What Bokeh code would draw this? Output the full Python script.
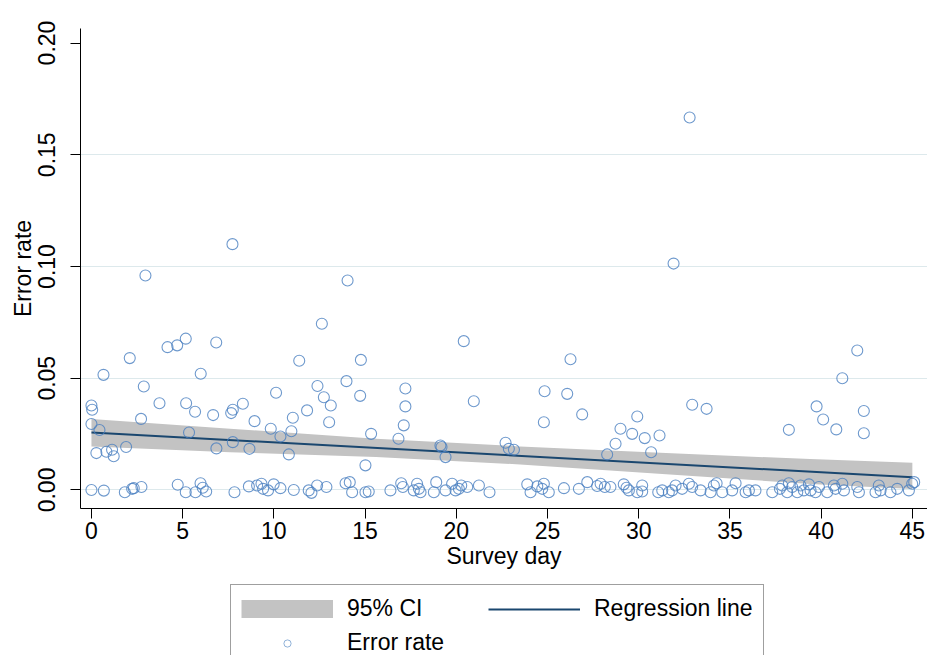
import numpy as np
from bokeh.plotting import figure
from bokeh.layouts import column
from bokeh.models import (Range1d, FixedTicker, Legend, LegendItem,
                          NumeralTickFormatter)
from bokeh.embed import file_html
from bokeh.resources import INLINE

# ---- data ----
day = [0.00, 0.04, 0.00, 0.44, 0.27, 0.82, 1.13, 1.22, 1.90, 0.66,
       2.10, 2.72, 2.87, 2.96, 3.73, 4.17, 4.70, 5.17, 5.19, 5.35,
       5.68, 5.99, 6.67, 6.84, 6.85, 7.66, 7.75, 7.75, 7.73, 8.30,
       8.66, 8.94, 9.83, 10.12, 10.36, 10.82, 10.96, 11.04, 11.39, 11.82,
       12.39, 12.63, 12.74, 13.03, 13.12, 13.98, 14.04, 14.73, 14.77, 15.02,
       15.33, 16.83, 17.12, 17.21, 17.21, 19.13, 19.19, 19.41, 20.41, 20.96,
       22.70, 22.88, 23.16, 24.80, 24.84, 26.08, 26.26, 26.90, 28.27, 28.73,
       29.00, 29.64, 29.92, 30.33, 30.68, 31.14, 31.91, 32.79, 32.93, 33.72,
       38.23, 39.75, 40.11, 40.83, 41.16, 41.98, 42.34, 42.34,
       # near-zero observations
       0.00, 0.68, 1.83, 2.23, 2.32, 2.74, 4.73, 5.17, 5.70, 5.98,
       6.10, 6.29, 7.84, 8.63, 9.08, 9.32, 9.41, 9.68, 9.99, 10.36,
       11.09, 11.91, 12.06, 12.37, 12.88, 13.93, 14.16, 14.29, 15.02, 15.20,
       16.39, 16.98, 17.07, 17.67, 17.85, 17.95, 18.04, 18.77, 18.90, 19.41,
       19.77, 19.96, 20.14, 20.27, 20.60, 21.24, 21.82, 23.89, 24.07, 24.44,
       24.71, 24.80, 25.07, 25.90, 26.72, 27.18, 27.72, 27.91, 28.14, 28.45,
       29.18, 29.33, 29.46, 29.92, 30.19, 30.19, 31.07, 31.29, 31.65, 31.83,
       32.02, 32.38, 32.75, 32.93, 33.39, 33.94, 34.12, 34.27, 34.58, 35.12,
       35.31, 35.86, 36.04, 36.40, 37.32, 37.74, 37.87, 38.14, 38.23, 38.41,
       38.69, 38.87, 39.05, 39.33, 39.42, 39.69, 39.88, 40.33, 40.70, 40.79,
       41.16, 41.25, 41.98, 42.07, 42.98, 43.16, 43.26, 43.80, 44.17, 44.81,
       44.99, 45.10]

error_rate = [0.0378, 0.0359, 0.0295, 0.0268, 0.0165, 0.0171, 0.0180, 0.0151, 0.0192, 0.0515,
              0.0590, 0.0318, 0.0463, 0.0960, 0.0388, 0.0639, 0.0647, 0.0677, 0.0388, 0.0257,
              0.0350, 0.0520, 0.0335, 0.0660, 0.0186, 0.0344, 0.0359, 0.0214, 0.1100, 0.0386,
              0.0184, 0.0308, 0.0274, 0.0435, 0.0239, 0.0159, 0.0263, 0.0323, 0.0578, 0.0356,
              0.0465, 0.0744, 0.0415, 0.0303, 0.0378, 0.0487, 0.0937, 0.0421, 0.0582, 0.0110,
              0.0251, 0.0229, 0.0289, 0.0374, 0.0454, 0.0199, 0.0192, 0.0147, 0.0666, 0.0397,
              0.0211, 0.0184, 0.0180, 0.0303, 0.0442, 0.0430, 0.0585, 0.0338, 0.0159, 0.0207,
              0.0274, 0.0251, 0.0329, 0.0232, 0.0169, 0.0244, 0.1013, 0.1667, 0.0381, 0.0363,
              0.0269, 0.0374, 0.0315, 0.0271, 0.0500, 0.0624, 0.0353, 0.0254,
              0.0000, -0.0003, -0.0010, 0.0005, 0.0008, 0.0013, 0.0023, -0.0010, -0.0010, 0.0030,
              0.0010, -0.0007, -0.0010, 0.0016, 0.0020, 0.0028, 0.0005, -0.0002, 0.0025, 0.0008,
              0.0000, -0.0002, -0.0013, 0.0020, 0.0013, 0.0030, 0.0035, -0.0010, -0.0010, -0.0007,
              -0.0002, 0.0030, 0.0013, -0.0002, 0.0028, 0.0005, -0.0010, -0.0010, 0.0035, -0.0002,
              0.0028, -0.0002, 0.0005, 0.0020, 0.0013, 0.0020, -0.0010, 0.0025, -0.0010, 0.0016,
              0.0005, 0.0028, -0.0010, 0.0008, 0.0005, 0.0035, 0.0018, 0.0028, 0.0013, 0.0013,
              0.0025, 0.0010, -0.0002, -0.0010, 0.0020, -0.0007, -0.0010, -0.0002, -0.0010, -0.0002,
              0.0020, 0.0005, 0.0028, 0.0013, -0.0002, -0.0010, 0.0020, 0.0030, -0.0010, -0.0002,
              0.0030, -0.0010, -0.0002, -0.0002, -0.0010, 0.0005, 0.0020, -0.0010, 0.0030, 0.0013,
              -0.0010, 0.0020, -0.0002, 0.0025, -0.0002, -0.0010, 0.0013, -0.0010, 0.0020, 0.0005,
              0.0028, -0.0002, 0.0013, -0.0010, -0.0010, 0.0020, -0.0002, -0.0010, 0.0005, -0.0002,
              0.0028, 0.0035]

reg_day = [0, 45]
reg_rate = [0.0257, 0.0057]

ci_day = [0, 7.6, 15.6, 23.5, 31.5, 39.4, 45]
ci_upper = [0.0318, 0.0274, 0.0229, 0.0195, 0.0165, 0.0138, 0.0122]
ci_lower = [0.0195, 0.0169, 0.0147, 0.0114, 0.0070, 0.0027, 0.0004]

x_ticks = [0, 5, 10, 15, 20, 25, 30, 35, 40, 45]
y_ticks = [0.0, 0.05, 0.10, 0.15, 0.20]
grid_ticks = [0.0, 0.05, 0.10, 0.15]

legend_labels = ["95% CI", "Regression line", "Error rate"]

FONT = "Liberation Sans"
CI_COLOR = "#c3c3c3"
LINE_COLOR = "#1a476f"
MARK_COLOR = "#4a80c0"

# ---------------- main plot ----------------
p = figure(width=927, height=580, output_backend="svg", toolbar_location=None,
           x_range=Range1d(-0.6, 45.83), y_range=Range1d(-0.0083, 0.2065),
           min_border_left=80, min_border_right=0, min_border_top=28,
           min_border_bottom=72)
p.outline_line_color = None
p.background_fill_color = "white"
p.border_fill_color = "white"

band = p.varea(x=ci_day, y1=ci_lower, y2=ci_upper, fill_color=CI_COLOR, fill_alpha=1.0)
line = p.line(x=reg_day, y=reg_rate, line_color=LINE_COLOR, line_width=2)
pts = p.scatter(x=day, y=error_rate, marker="circle", size=11, fill_color=None,
                line_color=MARK_COLOR, line_alpha=0.8, line_width=1.1)

p.xaxis.ticker = FixedTicker(ticks=x_ticks)
p.yaxis.ticker = FixedTicker(ticks=y_ticks)
p.yaxis.formatter = NumeralTickFormatter(format="0.00")
p.yaxis.major_label_orientation = "vertical"
for ax in (p.xaxis[0], p.yaxis[0]):
    ax.axis_line_color = "black"
    ax.axis_line_width = 1
    ax.major_tick_line_color = "black"
    ax.major_tick_in = 0
    ax.major_tick_out = 10
    ax.minor_tick_line_color = None
    ax.major_label_text_font = FONT
    ax.major_label_text_font_size = "23px"
    ax.major_label_text_color = "black"
    ax.axis_label_text_font = FONT
    ax.axis_label_text_font_size = "23px"
    ax.axis_label_text_font_style = "normal"
    ax.axis_label_text_color = "black"
p.xaxis.axis_label = "Survey day"
p.yaxis.axis_label = "Error rate"
p.xaxis.major_label_standoff = 3
p.xaxis.axis_label_standoff = 1
p.yaxis.major_label_standoff = 15
p.yaxis.axis_label_standoff = 0

p.xgrid.visible = False
p.ygrid.ticker = FixedTicker(ticks=grid_ticks)
p.ygrid.grid_line_color = "#dde9ec"
p.ygrid.grid_line_width = 1

# ---------------- legend strip ----------------
# Same series, drawn in a strip whose x range lies outside the data,
# so only the legend of this strip is visible.
lg = figure(width=927, height=75, output_backend="svg", toolbar_location=None,
            x_range=Range1d(1000, 1001), y_range=Range1d(0, 1),
            x_axis_type=None, y_axis_type=None, min_border=0)
lg.outline_line_color = None
lg.xgrid.visible = False
lg.ygrid.visible = False
lg.background_fill_color = "white"
lg.border_fill_color = "white"

# CI key drawn as a broad band swatch spanning the full key width
k_band = lg.line(x=ci_day, y=ci_upper, line_color=CI_COLOR, line_width=26)
k_line = lg.line(x=reg_day, y=reg_rate, line_color=LINE_COLOR, line_width=2)
k_pts = lg.scatter(x=day, y=error_rate, marker="circle", fill_color=None,
                   line_color=MARK_COLOR, line_alpha=0.6, line_width=1)

legend = Legend(items=[LegendItem(label=legend_labels[0], renderers=[k_band]),
                       LegendItem(label=legend_labels[1], renderers=[k_line]),
                       LegendItem(label=legend_labels[2], renderers=[k_pts])],
                location=(150, -12), orientation="horizontal", ncols=2,
                glyph_width=92, glyph_height=18, label_height=27,
                label_standoff=14, label_width=134,
                spacing=7, padding=10, margin=0,
                label_text_font=FONT, label_text_font_size="23px",
                label_text_color="black",
                border_line_color="#404040", border_line_width=1,
                background_fill_color="white", background_fill_alpha=1.0)
lg.add_layout(legend)

layout = column(p, lg, spacing=0)
open("out.html", "w").write(file_html(layout, INLINE))
